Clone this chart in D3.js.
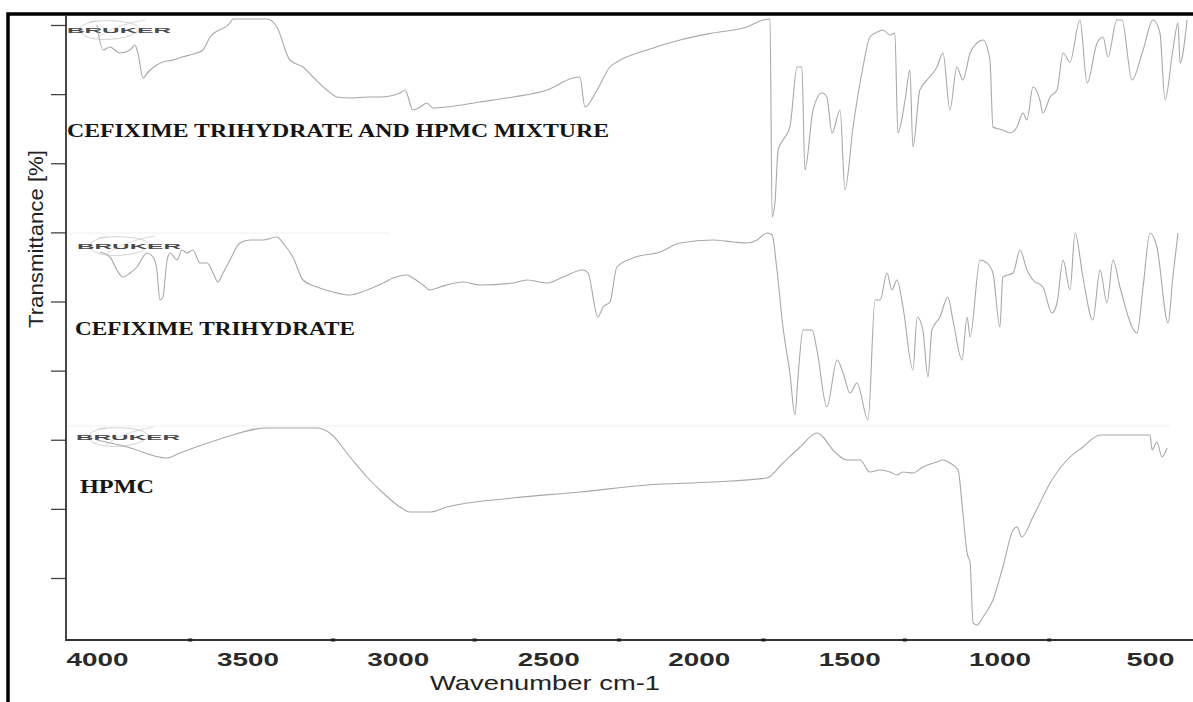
<!DOCTYPE html>
<html>
<head>
<meta charset="utf-8">
<script src="https://cdn.jsdelivr.net/npm/d3@7"></script>
<style>
  body { margin: 0; background: #fff; }
  svg { display: block; }
</style>
</head>
<body>
<svg id="chart" width="1193" height="702"></svg>
<script>
// wavenumber / transmittance readings for each spectrum (local % of its band)
const mixWn = [4000,3980,3957,3924,3890,3874,3864,3847,3830,3801,3781,3747,3717,3691,3668,3648,3624,3558,3548,3435,
  3402,3359,3315,3282,3236,3202,3159,3103,3059,2993,2976,2950,2926,2903,2883,2837,2727,2617,2504,2418,
  2395,2378,2338,2295,2272,2172,2062,1953,1840,1786,1763,1756,1746,1736,1720,1697,1673,1657,1647,1620,
  1590,1574,1557,1530,1514,1487,1454,1431,1407,1387,1364,1348,1338,1314,1298,1288,1265,1241,1208,1188,
  1165,1142,1122,1098,1075,1055,1032,1022,989,965,942,922,909,889,866,856,832,809,789,766,
  733,709,676,656,640,610,593,560,523,490,467,450,424,407,400,377];
const mixT = [97,84.5,86,83,84.5,87,83,70.5,73.5,77,78.5,79.5,81,82,83,84.5,91,98,100,100,
  96,79.5,76,71,64.5,61,60.5,61,61,63,64.5,54.5,56,58,55.5,56,58.5,61,64.5,70.5,
  71,56,64.5,76,78.5,84.5,89.5,93,96,99.5,100,1,9.5,34.5,39.5,46,76,76,24.5,54.5,
  63,61,43,54.5,14.5,46,76,91,93.5,94.5,92,93,43,59.5,74.5,36,64.5,69.5,76,83,
  54.5,76,69.5,83,88,89.5,79.5,46,44.5,43,46,53,49.5,66,59.5,53,61,64.5,83,78.5,
  99.5,68,88,91,81,99.5,99.5,69.5,84.5,99.5,93,59.5,84.5,98,78,99.5];

const cefWn = [3990,3957,3934,3914,3890,3867,3834,3814,3801,3791,3781,3767,3757,3734,3717,3701,3681,3658,3634,3614,
  3598,3581,3558,3525,3491,3448,3402,3382,3349,3315,3269,3216,3159,3103,3049,3016,2970,2950,2916,2893,
  2860,2783,2727,2617,2571,2504,2451,2385,2368,2335,2318,2295,2272,2219,2129,2062,1953,1886,1840,1806,
  1786,1773,1756,1740,1720,1697,1680,1670,1653,1623,1607,1574,1540,1520,1497,1474,1437,1414,1397,1374,
  1358,1341,1321,1288,1274,1255,1238,1225,1198,1172,1155,1125,1108,1098,1065,1042,1022,999,989,955,
  932,909,889,856,826,809,789,766,749,723,690,666,643,623,600,543,523,500,477,440,424,407];
const cefT = [84,81.5,75,71.5,73.5,76.5,83.5,81.5,75,60,61.5,80,83.5,80,85,83.5,85,78.5,78.5,73.5,
  69,73.5,80,88.5,90,90,91.5,88.5,81.5,70,66.5,64,62.5,65,68.5,71,72.5,71,67.5,65,
  66.5,69,67.5,68.5,70,68.5,71.5,75,73.5,51.5,56.5,59,76.5,81,84,88.5,90,89,88.5,90,
  92.5,93.5,92.5,75,46.5,23.5,2.5,21.5,45,45,35,6.5,30,23.5,13.5,18.5,0,60,60,73.5,
  65,70,56.5,25,51.5,45,21.5,45,51.5,61.5,50,30,51.5,41.5,80,78.5,73.5,46.5,71.5,73.5,
  85,75,70,66.5,53.5,58.5,80,65,93.5,71.5,50,75,58.5,80,66.5,43.5,66.5,93.5,86.5,48.5,71.5,93.5];

const hpWn = [4000,3900,3767,3724,3601,3435,3269,3226,3159,3103,3049,2993,2960,2893,2837,2617,2395,2172,1953,1773,
  1720,1663,1607,1587,1554,1507,1464,1431,1397,1364,1341,1321,1288,1255,1208,1188,1165,1138,1122,1108,
  1098,1088,1075,1055,1022,989,955,942,926,889,832,776,723,666,610,500,493,477,460,443];
const hpT = [94,90.5,85,87.5,94,100,100,97.5,85.5,75.5,67.5,60.5,58,58,60.5,65,68,71.5,73,75,
  82.5,90.5,97.5,95.5,89,84,84,78,79,78,76.5,78,77.5,80.5,83,84,82.5,79,57.5,37.5,
  32.5,2.5,1.5,5.5,14,30.5,49,50.5,45.5,55.5,72.5,84,90.5,96.5,96.5,96.5,89,93,85.5,90];

const sampleNames = ['CEFIXIME TRIHYDRATE AND HPMC MIXTURE', 'CEFIXIME TRIHYDRATE', 'HPMC'];
const xTicks = [4000, 3500, 3000, 2500, 2000, 1500, 1000, 500];
const xMinorTicks = [3690, 3215, 2745, 2265, 1785, 1315, 835];
const yTicks = [0, 1, 2, 3, 4, 5, 6, 7, 8];

const svg = d3.select('#chart');

// outer frame
svg.append('rect')
  .attr('x', 8).attr('y', 14)
  .attr('width', 1200).attr('height', 700)
  .attr('fill', 'none')
  .attr('stroke', '#000')
  .attr('stroke-width', 3.5);

const x = d3.scaleLinear().domain([4000, 500]).range([97, 1150]);
const yAxisScale = d3.scaleLinear().domain([0, 8]).range([578, 25]);

const panels = [
  { name: sampleNames[0], data: d3.zip(mixWn, mixT), y: d3.scaleLinear().domain([0, 100]).range([219, 19]),
    label: { x: 67, y: 137, len: 542 }, logo: { x: 67, y: 30 } },
  { name: sampleNames[1], data: d3.zip(cefWn, cefT), y: d3.scaleLinear().domain([0, 100]).range([420, 220]),
    label: { x: 75, y: 335, len: 280 }, logo: { x: 77, y: 246 } },
  { name: sampleNames[2], data: d3.zip(hpWn, hpT), y: d3.scaleLinear().domain([0, 100]).range([628, 428]),
    label: { x: 80, y: 493, len: 74 }, logo: { x: 76, y: 437 } }
];

// faint edges of the pasted spectra
svg.append('line').attr('x1', 67).attr('x2', 390).attr('y1', 233).attr('y2', 233)
  .attr('stroke', '#f0f0f0');
svg.append('line').attr('x1', 67).attr('x2', 1170).attr('y1', 426).attr('y2', 426)
  .attr('stroke', '#f0f0f0');

// bruker logos
panels.forEach((p) => {
  const g = svg.append('g').attr('transform', `translate(${p.logo.x},${p.logo.y})`);
  g.append('path')
    .attr('d', 'M22,-8 C50,-12 80,-6 70,2 C60,10 30,12 18,6 C8,0 12,-6 30,-9')
    .attr('fill', 'none').attr('stroke', '#c8c8c8').attr('stroke-width', 0.8);
  g.append('path')
    .attr('d', 'M30,8 C40,0 55,-6 78,-10')
    .attr('fill', 'none').attr('stroke', '#cfcfcf').attr('stroke-width', 0.8);
  g.append('text')
    .attr('x', 0).attr('y', 3)
    .attr('textLength', 104).attr('lengthAdjust', 'spacingAndGlyphs')
    .style('font-family', 'Liberation Sans, Arial, sans-serif')
    .style('font-weight', 'bold')
    .style('font-size', '8px')
    .style('fill', '#4a4a4a')
    .text('BRUKER');
});

// spectra
const line = d3.line()
  .curve(d3.curveMonotoneX)
  .x((d) => x(d[0]));

panels.forEach((p) => {
  svg.append('path')
    .datum(p.data)
    .attr('fill', 'none')
    .attr('stroke', '#a8a8a8')
    .attr('stroke-width', 1.1)
    .attr('d', line.y((d) => p.y(d[1])));

  svg.append('text')
    .attr('x', p.label.x).attr('y', p.label.y)
    .attr('textLength', p.label.len).attr('lengthAdjust', 'spacingAndGlyphs')
    .style('font-family', 'Liberation Serif, Times New Roman, serif')
    .style('font-weight', 'bold')
    .style('font-size', '19px')
    .style('fill', '#151515')
    .text(p.name);
});

// y axis
const yAxis = svg.append('g')
  .attr('transform', 'translate(66,0)')
  .call(d3.axisLeft(yAxisScale).tickValues(yTicks).tickSize(15).tickSizeOuter(0).tickFormat(''));
yAxis.select('.domain').remove();
yAxis.selectAll('line').attr('stroke', '#444').attr('stroke-width', 1.3);
svg.append('line')
  .attr('x1', 66).attr('x2', 66).attr('y1', 16).attr('y2', 641)
  .attr('stroke', '#333').attr('stroke-width', 1.8);

svg.append('text')
  .attr('transform', 'translate(43,239) rotate(-90)')
  .attr('text-anchor', 'middle')
  .attr('textLength', 178).attr('lengthAdjust', 'spacingAndGlyphs')
  .style('font-family', 'Liberation Sans, Arial, sans-serif')
  .style('font-size', '21px')
  .style('fill', '#222')
  .text('Transmittance [%]');

// x axis
const xAxis = svg.append('g')
  .attr('transform', 'translate(0,640)')
  .call(d3.axisBottom(x).tickValues(xTicks).tickSize(0).tickFormat(d3.format('d')));
xAxis.select('.domain').remove();
xAxis.selectAll('text')
  .attr('y', 26).attr('dy', 0)
  .attr('textLength', 62).attr('lengthAdjust', 'spacingAndGlyphs')
  .style('font-family', 'Liberation Sans, Arial, sans-serif')
  .style('font-weight', 'bold')
  .style('font-size', '18px')
  .style('fill', '#2a2a2a');
xAxis.selectAll('text').filter((d) => d === 500).attr('textLength', 48);

svg.append('line')
  .attr('x1', 66).attr('x2', 1193).attr('y1', 640).attr('y2', 640)
  .attr('stroke', '#333').attr('stroke-width', 1.8);

svg.append('g')
  .selectAll('rect')
  .data(xMinorTicks)
  .join('rect')
  .attr('x', (d) => x(d) - 2)
  .attr('y', 638.5)
  .attr('width', 4).attr('height', 3)
  .attr('fill', '#222');

svg.append('text')
  .attr('x', 545).attr('y', 690)
  .attr('text-anchor', 'middle')
  .attr('textLength', 230).attr('lengthAdjust', 'spacingAndGlyphs')
  .style('font-family', 'Liberation Sans, Arial, sans-serif')
  .style('font-size', '21px')
  .style('fill', '#222')
  .text('Wavenumber cm-1');
</script>
</body>
</html>
